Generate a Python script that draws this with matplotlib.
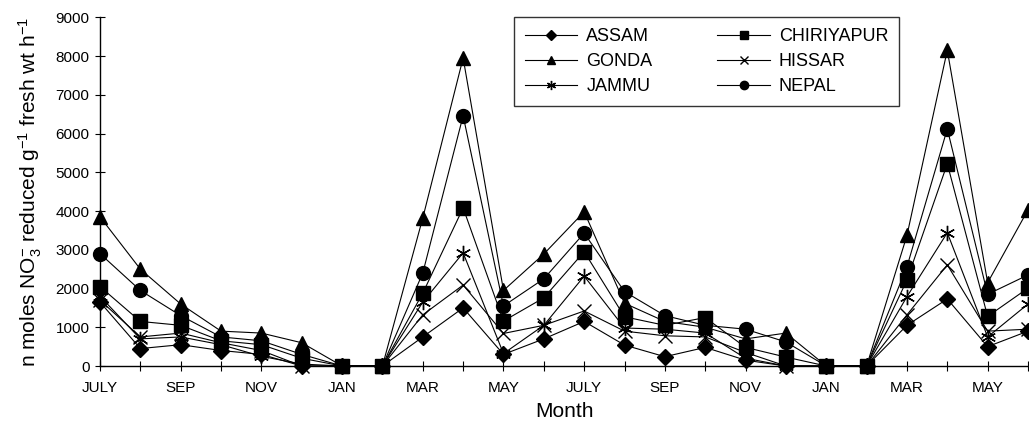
import matplotlib
matplotlib.use("Agg")
import matplotlib.pyplot as plt
import numpy as np

# Monthly readings, JULY of year 1 to JUNE of year 2 (24 months)
month_ticks = ["JULY", "SEP", "NOV", "JAN", "MAR", "MAY",
               "JULY", "SEP", "NOV", "JAN", "MAR", "MAY"]

assam = [1650, 450, 550, 400, 300, 0, 0, 0, 750, 1500, 300, 700,
         1150, 540, 240, 480, 150, 0, 0, 0, 1050, 1730, 500, 900]
gonda = [3850, 2500, 1600, 900, 850, 600, 0, 0, 3820, 7950, 1950, 2890,
         3980, 1620, 1150, 1000, 700, 850, 0, 0, 3370, 8150, 2150, 4030]
jammu = [1800, 700, 750, 550, 250, 50, 0, 0, 1650, 2920, 320, 1050,
         2320, 980, 950, 850, 200, 0, 0, 0, 1790, 3440, 750, 1600]
chiriyapur = [2050, 1150, 1050, 650, 550, 200, 0, 0, 1880, 4080, 1160, 1760,
              2950, 1270, 1050, 1250, 480, 230, 0, 0, 2220, 5220, 1280, 2010]
hissar = [1700, 750, 850, 600, 400, 0, 0, 0, 1320, 2090, 840, 1050,
          1420, 900, 780, 750, 350, 0, 0, 0, 1320, 2610, 900, 950]
nepal = [2900, 1950, 1300, 750, 650, 300, 0, 0, 2400, 6460, 1550, 2250,
         3430, 1920, 1300, 1050, 950, 620, 0, 0, 2560, 6120, 1850, 2350]

plt.rcParams["font.family"] = ["Liberation Sans", "DejaVu Sans"]
plt.rcParams["mathtext.fontset"] = "custom"
plt.rcParams["mathtext.rm"] = "Liberation Sans"
plt.rcParams["mathtext.it"] = "Liberation Sans:italic"

fig = plt.figure(figsize=(10.29, 4.22), dpi=100)
ax = fig.add_axes([100 / 1029, 56 / 422, 929 / 1029, (366 - 17.3) / 422])

x = np.arange(len(assam))
series = [
    ("ASSAM", assam, "D", 8),
    ("GONDA", gonda, "^", 10),
    ("JAMMU", jammu, (6, 2, 0), 11),
    ("CHIRIYAPUR", chiriyapur, "s", 10),
    ("HISSAR", hissar, "x", 10),
    ("NEPAL", nepal, "o", 10),
]
for name, vals, mk, ms in series:
    ax.plot(x, vals, color="black", linewidth=0.8, marker=mk, markersize=ms,
            markerfacecolor="black", markeredgecolor="black",
            markeredgewidth=1.0, label=name, clip_on=False)

ax.set_xlim(0, 23.025)
ax.set_ylim(0, 9000)
ax.set_yticks(np.arange(0, 9001, 1000))
ax.set_xticks(np.arange(0, 24, 2))
ax.set_xticklabels(month_ticks)
ax.set_xticks(np.arange(1, 24, 2), minor=True)

for s in ["top", "right"]:
    ax.spines[s].set_visible(False)
for s in ["left", "bottom"]:
    ax.spines[s].set_linewidth(1.0)

ax.tick_params(axis="both", which="both", direction="inout", length=7,
               width=0.8, labelsize=11)
ax.tick_params(axis="x", pad=7)
ax.tick_params(axis="y", pad=4)

ax.set_xlabel("Month", fontsize=15, labelpad=5)
ax.set_ylabel(r"n moles NO$_3^{-}$ reduced g$^{-1}$ fresh wt h$^{-1}$",
              fontsize=15, labelpad=8)

leg = ax.legend(ncol=2, loc="upper left",
                bbox_to_anchor=(514 / 1029, 1 - 17 / 422),
                bbox_transform=fig.transFigure, borderaxespad=0,
                frameon=True, fancybox=False, edgecolor="black",
                fontsize=13, markerscale=0.6, handlelength=2.9,
                handletextpad=0.5, columnspacing=3.6, labelspacing=0.45,
                borderpad=0.6)
leg.get_frame().set_linewidth(1.0)

fig.savefig("out.png", dpi=100)
